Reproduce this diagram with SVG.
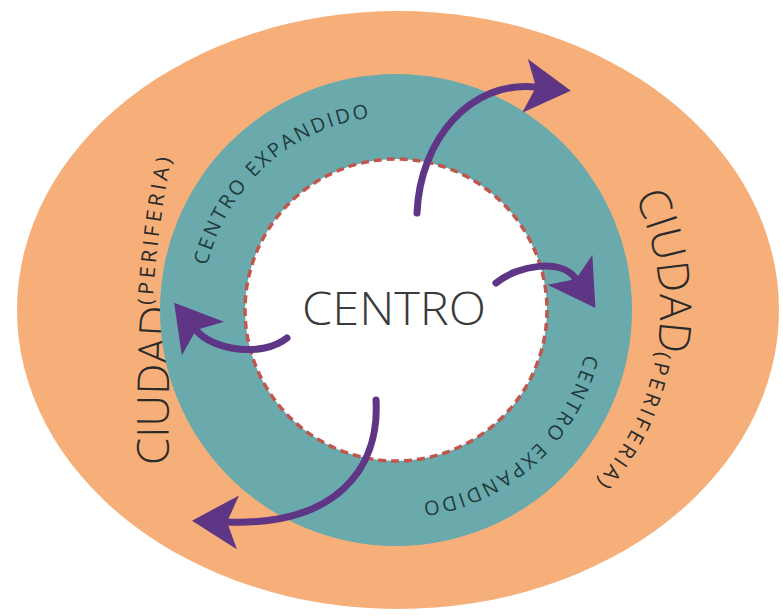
<svg xmlns="http://www.w3.org/2000/svg" width="783" height="616" viewBox="0 0 783 616">
<style>
.lbl{font-family:"Open Sans","Liberation Sans",sans-serif;}
.ce{font-size:20px;fill:#1f3b3d;letter-spacing:2.5px;}
.ci{font-size:44px;fill:#2a2a2a;font-weight:300;}
.pe{font-size:21px;letter-spacing:3.5px;font-weight:400;}
.arrow{fill:none;stroke:#5f3585;stroke-width:7;stroke-linecap:round;marker-end:url(#head);}
</style>
<defs>
<marker id="head" markerUnits="userSpaceOnUse" viewBox="0 0 46 54" refX="11" refY="27" markerWidth="46" markerHeight="54" orient="auto">
<path d="M0,0 L46,27 L0,54 L11,27 Z" fill="#5f3585"/>
</marker>
<path id="pA" d="M202.1,316.8 A194,194 0 0 1 423.0,117.9"/>
<path id="pB" d="M589.9,303.2 A194,194 0 0 1 369.0,502.1"/>
<path id="pL" d="M169,495 C168,400 165,250 203,112"/>
<path id="pR" d="M612.3,158.6 A264,264 0 0 1 565.7,512.2"/>
</defs>
<rect width="783" height="616" fill="#ffffff"/>
<g id="ciudad">
<ellipse cx="398" cy="310" rx="381" ry="299" fill="#F6AF79"/>
<text class="lbl ci"><textPath href="#pL" startOffset="30">CIUDAD<tspan class="pe" dy="-20">(PERIFERIA)</tspan></textPath></text>
<text class="lbl ci"><textPath href="#pR" startOffset="44">CIUDAD<tspan class="pe">(PERIFERIA)</tspan></textPath></text>
</g>
<g id="centro-expandido">
<circle cx="396" cy="310" r="236" fill="#6AAAAC"/>
<text class="lbl ce"><textPath href="#pA" startOffset="50%" text-anchor="middle">CENTRO EXPANDIDO</textPath></text>
<text class="lbl ce"><textPath href="#pB" startOffset="50%" text-anchor="middle">CENTRO EXPANDIDO</textPath></text>
</g>
<g id="centro">
<circle cx="396" cy="310" r="151" fill="#ffffff" stroke="#c0574f" stroke-width="3.5" stroke-dasharray="8 5"/>
<text class="lbl" x="302" y="325" font-size="46" font-weight="300" fill="#3a3a3a" textLength="184" lengthAdjust="spacingAndGlyphs">CENTRO</text>
</g>
<g id="connectors">
<path class="arrow" d="M417,213 C420,140 470,80 536,87"/>
<path class="arrow" d="M496,283 C518,265 562,258 576,279"/>
<path class="arrow" d="M287,338 C262,358 212,350 196,330"/>
<path class="arrow" d="M376,400 C380,470 335,526 227,522"/>
</g>
</svg>
